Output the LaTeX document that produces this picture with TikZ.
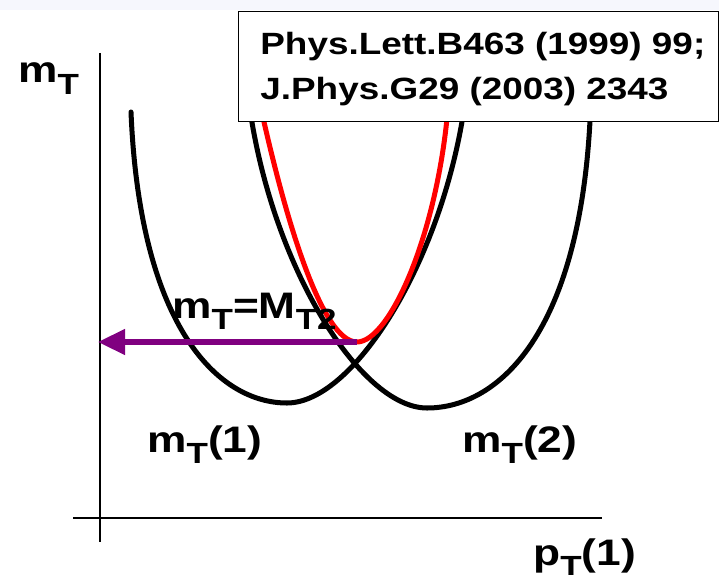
\documentclass[tikz,border=0pt]{standalone}
\usepackage{fontspec}
\setmainfont{Liberation Sans}
\usetikzlibrary{arrows.meta}
\definecolor{mtpurple}{RGB}{128,0,128}
\definecolor{topband}{RGB}{246,247,253}
\newcommand\lo[1]{\raisebox{-6.3pt}{\fontsize{16.6}{18}\selectfont #1}}
\newcommand\wide[1]{\scalebox{1.2}[1]{#1}}
\tikzset{
  curve/.style={
    line width=2.85pt,
    line join=round,
    line cap=round
  },
}
\tikzset{
  axis/.style={
    line width=1.1pt
  },
}
\tikzset{
  lbl/.style={
    font=\fontsize{21}{24}\selectfont\bfseries,
    inner sep=0pt,
    anchor=base west
  },
  reftext/.style={
    font=\fontsize{17.5}{20}\selectfont\bfseries,
    inner sep=0pt,
    anchor=base west
  },
  refbox/.style={
    draw,
    fill=white,
    line width=0.75pt,
    inner sep=0pt,
    anchor=north west,
    minimum width=9.6cm,
    minimum height=2.2cm
  }
}
\begin{document}
\begin{tikzpicture}[x=0.02cm,y=-0.02cm]
        \useasboundingbox (0,0) rectangle (719,574);
        \clip (0,0) rectangle (719,574);
        \fill[topband] (0,0) rectangle (719,10);

        % axes
        \coordinate (ytop) at (100,53);
        \coordinate (ybot) at (100,542);
        \coordinate (xleft) at (73,518);
        \coordinate (xright) at (602,518);
        \draw[axis] (ytop) -- (ybot);
        \draw[axis] (xleft) -- (xright);

        % m_T(1) and m_T(2)
        \coordinate (onemin) at (287,403);
        \coordinate (twomin) at (427,408);
        \draw[curve] (131,112) .. controls (140,330) and (220,403) .. (onemin)
                     .. controls (355,403) and (446,255) .. (466,95);
        \draw[curve] (248,95) .. controls (268,260) and (359,408) .. (twomin)
                     .. controls (500,408) and (585,330) .. (591,95);

        % max of the two
        \coordinate (mtmin) at (357,342);
        \draw[curve, red] (258,95) .. controls (285,220) and (322,342) .. (mtmin)
                          .. controls (390,342) and (440,230) .. (449,95);

        \coordinate (yhit) at (98,342);
        \draw[mtpurple, line width=2.85pt, -{Triangle[length=15.4pt,width=14.2pt]}] (mtmin) -- (yhit);

        \node[lbl] (mtaxis) at (18,83) {\wide{m\lo{T}}};
        \node[lbl] (mtone) at (147,452) {\wide{m\lo{T}(1)}};
        \node[lbl] (mttwo) at (462,452) {\wide{m\lo{T}(2)}};
        \node[lbl] (ptone) at (533,565) {\wide{p\lo{T}(1)}};
        \node[lbl] (mteq) at (172,318) {\wide{m\lo{T}=M\lo{T2}}};

        \node[refbox] (ref) at (238,11) {};
        \node[reftext] (refone) at (260,55) {\wide{Phys.Lett.B463 (1999) 99;}};
        \node[reftext] (reftwo) at (260,100) {\wide{J.Phys.G29 (2003) 2343}};
\end{tikzpicture}
\end{document}
